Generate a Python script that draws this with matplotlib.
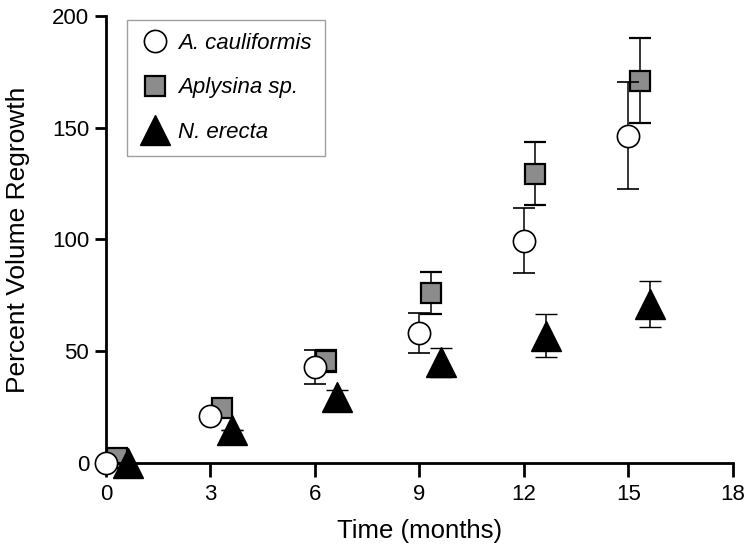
import numpy as np
import matplotlib.pyplot as plt

plt.rcParams['font.family'] = ['Liberation Sans', 'DejaVu Sans']

# months sampled
months = np.array([0, 3, 6, 9, 12, 15])

# A. cauliformis
acaul = [0, 21, 43, 58, 99.5, 146.5]
acaul_err = [0, 0, 7.5, 9, 14.5, 24]

# Aplysina sp.
aply = [2, 24.5, 45.5, 76, 129.5, 171]
aply_err = [0, 0, 5, 9.5, 14, 19]

# N. erecta
nere = [0, 14.5, 29.5, 45, 57, 71]
nere_err = [0, 0, 3, 6.5, 9.7, 10.4]

fig = plt.figure(figsize=(7.51, 5.55), dpi=100)
ax = fig.add_axes([0.141, 0.166, 0.835, 0.805])

ax.errorbar(months + 0.33, aply, yerr=aply_err, fmt='s', ms=15, mfc='#8c8c8c',
            mec='black', mew=1.6, ecolor='black', elinewidth=1.1, capsize=8,
            capthick=1.1, label='Aplysina sp.', zorder=2)
ax.errorbar(months, acaul, yerr=acaul_err, fmt='o', ms=16, mfc='white',
            mec='black', mew=1.2, ecolor='black', elinewidth=1.1, capsize=8,
            capthick=1.1, label='A. cauliformis', zorder=3)
ax.errorbar(months + 0.63, nere, yerr=nere_err, fmt='^', ms=21, mfc='black',
            mec='black', mew=1, ecolor='black', elinewidth=1.1, capsize=8,
            capthick=1.1, label='N. erecta', zorder=4)

ax.set_xlim(0, 18)
ax.set_ylim(0, 200)
ax.set_xticks([0, 3, 6, 9, 12, 15, 18])
ax.set_yticks([0, 50, 100, 150, 200])
for s in ['top', 'right']:
    ax.spines[s].set_visible(False)
for s in ['left', 'bottom']:
    ax.spines[s].set_linewidth(2)
ax.tick_params(axis='x', length=10, width=2, labelsize=16, pad=5)
ax.tick_params(axis='y', length=8, width=2, labelsize=16, pad=4)

ax.set_xlabel('Time (months)', fontsize=18.5, labelpad=10)
ax.set_ylabel('Percent Volume Regrowth', fontsize=19, labelpad=16)

handles, labels = ax.get_legend_handles_labels()
order = [1, 0, 2]
leg = ax.legend([handles[i][0] for i in order], [labels[i] for i in order],
                loc='upper left', bbox_to_anchor=(0.033, 0.992),
                prop={'style': 'italic', 'size': 16}, frameon=True,
                fancybox=False, edgecolor='#888888', handletextpad=0.3,
                labelspacing=1.05, borderpad=0.6, handlelength=1.4,
                borderaxespad=0)
leg.get_frame().set_linewidth(1)

for t in ax.get_children():
    t.set_clip_on(False) if hasattr(t, 'set_clip_on') else None

fig.savefig('out.png', dpi=100)
